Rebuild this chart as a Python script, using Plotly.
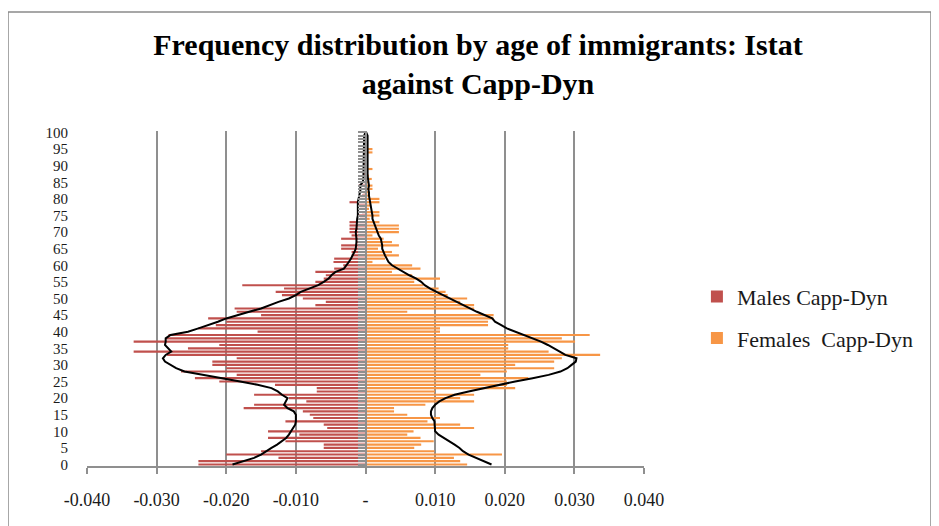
import plotly.graph_objects as go

ages = list(range(0, 101))

males_capp = [
    -0.0240, -0.0240, -0.0125, -0.0200, -0.0150, -0.0060, -0.0060, -0.0115, -0.0140, -0.0095,
    -0.0140, -0.0055, -0.0060, -0.0115, -0.0075, -0.0080, -0.0090, -0.0175, -0.0160, -0.0085,
    -0.0110, -0.0160, -0.0070, -0.0070, -0.0130, -0.0210, -0.0245, -0.0185, -0.0265, -0.0200,
    -0.0220, -0.0220, -0.0185, -0.0285, -0.0333, -0.0255, -0.0210, -0.0333, -0.0286, -0.0283,
    -0.0155, -0.0240, -0.0215, -0.0200, -0.0226, -0.0150, -0.0185, -0.0188, -0.0072, -0.0057,
    -0.0090, -0.0120, -0.0129, -0.0117, -0.0177, -0.0072, -0.0060, -0.0057, -0.0072, -0.0045,
    -0.0032, -0.0046, -0.0045, -0.0020, -0.0020, -0.0035, -0.0035, -0.0012, -0.0035, -0.0020,
    -0.0023, -0.0023, -0.0023, -0.0023, -0.0008, -0.0010, -0.0005, -0.0008, -0.0010, -0.0023,
    -0.0010, -0.0005, -0.0003, -0.0002, -0.0010, -0.0002, -0.0002, -0.0001, -0.0001, -0.0001,
    -0.0001, -0.0001, -0.0001, -0.0001, -0.0001, -0.0001, -0.0001, -0.0001, -0.0001, -0.0001,
    -0.0001,
]

females_capp = [
    0.0146, 0.0136, 0.0127, 0.0196, 0.0099, 0.0070, 0.0080, 0.0098, 0.0079, 0.0060,
    0.0069, 0.0156, 0.0136, 0.0089, 0.0107, 0.0060, 0.0041, 0.0041, 0.0086, 0.0156,
    0.0136, 0.0156, 0.0100, 0.0215, 0.0203, 0.0203, 0.0234, 0.0165, 0.0203, 0.0271,
    0.0215, 0.0271, 0.0282, 0.0337, 0.0263, 0.0205, 0.0205, 0.0301, 0.0282, 0.0322,
    0.0107, 0.0107, 0.0176, 0.0176, 0.0184, 0.0184, 0.0060, 0.0156, 0.0156, 0.0136,
    0.0146, 0.0118, 0.0115, 0.0105, 0.0083, 0.0070, 0.0107, 0.0067, 0.0038, 0.0079,
    0.0067, 0.0010, 0.0028, 0.0048, 0.0038, 0.0018, 0.0048, 0.0038, 0.0026, 0.0010,
    0.0048, 0.0048, 0.0048, 0.0020, 0.0006, 0.0020, 0.0020, 0.0005, 0.0008, 0.0020,
    0.0020, 0.0005, 0.0005, 0.0010, 0.0010, 0.0005, 0.0009, 0.0005, 0.0003, 0.0010,
    0.0003, 0.0003, 0.0003, 0.0003, 0.0010, 0.0010, 0.0002, 0.0002, 0.0002, 0.0002,
    0.0002,
]

males_istat = [
    -0.0191, -0.0175, -0.0160, -0.0150, -0.0143, -0.0135, -0.0127, -0.0120, -0.0114, -0.0110,
    -0.0107, -0.0104, -0.0101, -0.0100, -0.0100, -0.0100, -0.0103, -0.0112, -0.0117, -0.0114,
    -0.0112, -0.0120, -0.0126, -0.0135, -0.0155, -0.0180, -0.0205, -0.0235, -0.0260, -0.0272,
    -0.0280, -0.0288, -0.0291, -0.0287, -0.0279, -0.0284, -0.0288, -0.0287, -0.0287, -0.0280,
    -0.0255, -0.0240, -0.0225, -0.0212, -0.0200, -0.0185, -0.0167, -0.0150, -0.0138, -0.0125,
    -0.0110, -0.0100, -0.0093, -0.0080, -0.0068, -0.0060, -0.0053, -0.0049, -0.0043, -0.0031,
    -0.0027, -0.0024, -0.0021, -0.0018, -0.0016, -0.0014, -0.0013, -0.0013, -0.0013, -0.0014,
    -0.0014, -0.0013, -0.0013, -0.0012, -0.0012, -0.0011, -0.0011, -0.0012, -0.0012, -0.0011,
    -0.0010, -0.0009, -0.0008, -0.0007, -0.0008, -0.0004, -0.0003, -0.0003, -0.0003, -0.0003,
    -0.0003, -0.0003, -0.0003, -0.0003, -0.0003, -0.0003, -0.0002, -0.0002, -0.0002, -0.0002,
    0.0000,
]

females_istat = [
    0.0181, 0.0170, 0.0158, 0.0148, 0.0140, 0.0135, 0.0128, 0.0120, 0.0112, 0.0105,
    0.0100, 0.0100, 0.0100, 0.0099, 0.0096, 0.0094, 0.0094, 0.0096, 0.0100, 0.0106,
    0.0115, 0.0128, 0.0148, 0.0170, 0.0190, 0.0215, 0.0240, 0.0263, 0.0280, 0.0290,
    0.0296, 0.0302, 0.0303, 0.0287, 0.0279, 0.0271, 0.0262, 0.0252, 0.0240, 0.0226,
    0.0214, 0.0203, 0.0195, 0.0186, 0.0182, 0.0170, 0.0160, 0.0150, 0.0140, 0.0132,
    0.0122, 0.0112, 0.0102, 0.0093, 0.0085, 0.0080, 0.0073, 0.0063, 0.0055, 0.0045,
    0.0038, 0.0033, 0.0030, 0.0028, 0.0026, 0.0024, 0.0024, 0.0023, 0.0022, 0.0019,
    0.0017, 0.0015, 0.0013, 0.0011, 0.0010, 0.0010, 0.0009, 0.0009, 0.0008, 0.0007,
    0.0006, 0.0005, 0.0005, 0.0004, 0.0005, 0.0004, 0.0003, 0.0003, 0.0003, 0.0003,
    0.0003, 0.0003, 0.0003, 0.0003, 0.0003, 0.0003, 0.0003, 0.0003, 0.0003, 0.0003,
    0.0001,
]

x_tickvals = [-0.04, -0.03, -0.02, -0.01, 0.0, 0.01, 0.02, 0.03, 0.04]
x_ticktext = ["-0.040", "-0.030", "-0.020", "-0.010", "-", "0.010", "0.020", "0.030", "0.040"]
y_tickvals = list(range(0, 101, 5))

FONT = "Liberation Serif, Times New Roman, serif"
GRAY = "#8f8f8f"

W, H = 931, 518
ML, MR, MT, MB = 79, 295, 123, 60
PW = W - ML - MR
PH = H - MT - MB

fig = go.Figure()
fig.add_trace(go.Bar(
    y=ages, x=males_capp, orientation="h", name="Males Capp-Dyn",
    marker=dict(color="#C0504D", line=dict(width=0)),
    legendgroup="m",
))
fig.add_trace(go.Bar(
    y=ages, x=females_capp, orientation="h", name="Females  Capp-Dyn",
    marker=dict(color="#F79646", line=dict(width=0)),
    legendgroup="f",
))
fig.add_trace(go.Scatter(
    y=ages, x=males_istat, mode="lines", name="Males Istat",
    line=dict(color="black", width=2), showlegend=False, yaxis="y2",
))
fig.add_trace(go.Scatter(
    y=ages, x=females_istat, mode="lines", name="Females Istat",
    line=dict(color="black", width=2), showlegend=False, yaxis="y2",
))

yrange = [-0.45, 100.45]

fig.update_layout(
    width=W, height=H,
    margin=dict(l=ML, r=MR, t=MT, b=MB),
    paper_bgcolor="white", plot_bgcolor="white",
    font=dict(family=FONT, color="#1a1a1a", size=17),
    barmode="overlay", bargap=0.35,
    title=dict(
        text="<b>Frequency distribution by age of immigrants: Istat<br>against Capp-Dyn</b>",
        x=470 / W, xanchor="center", xref="container",
        y=1 - 47 / H, yanchor="middle", yref="container",
        font=dict(family=FONT, size=30, color="#000000"),
    ),
    xaxis=dict(
        range=[-0.04, 0.04], tickvals=x_tickvals, ticktext=x_ticktext,
        showgrid=True, gridcolor=GRAY, gridwidth=2,
        zeroline=False, showline=True, linecolor=GRAY, linewidth=2,
        ticks="outside", ticklen=6, tickcolor=GRAY, tickwidth=2,
        ticklabelstandoff=10, tickfont=dict(size=18, family=FONT),
        mirror=False,
    ),
    yaxis=dict(
        range=yrange, tickvals=y_tickvals, showgrid=False, zeroline=False,
        showline=False, ticks="", ticklabelstandoff=18,
        tickfont=dict(size=15, family=FONT),
    ),
    yaxis2=dict(
        overlaying="y", matches="y", anchor="free", position=0.5, side="left",
        showline=True, linecolor=GRAY, linewidth=2,
        ticks="outside", ticklen=7, tickcolor=GRAY, tickwidth=1.5,
        tickmode="linear", tick0=0, dtick=1, showticklabels=False,
        showgrid=False, zeroline=False,
    ),
    legend=dict(
        x=1.095, y=0.443, xanchor="left", yanchor="middle",
        font=dict(size=22, family=FONT, color="#1a1a1a"),
        tracegroupgap=10, bgcolor="rgba(0,0,0,0)",
    ),
    shapes=[dict(
        type="rect", xref="paper", yref="paper",
        x0=(0 - ML) / PW, x1=(923 - ML) / PW,
        y0=(MT + PH - 560) / PH, y1=(MT + PH - 4) / PH,
        line=dict(color="#8a8a8a", width=1.5), fillcolor="rgba(0,0,0,0)",
        layer="below",
    )],
)

fig.write_html("out.html")
